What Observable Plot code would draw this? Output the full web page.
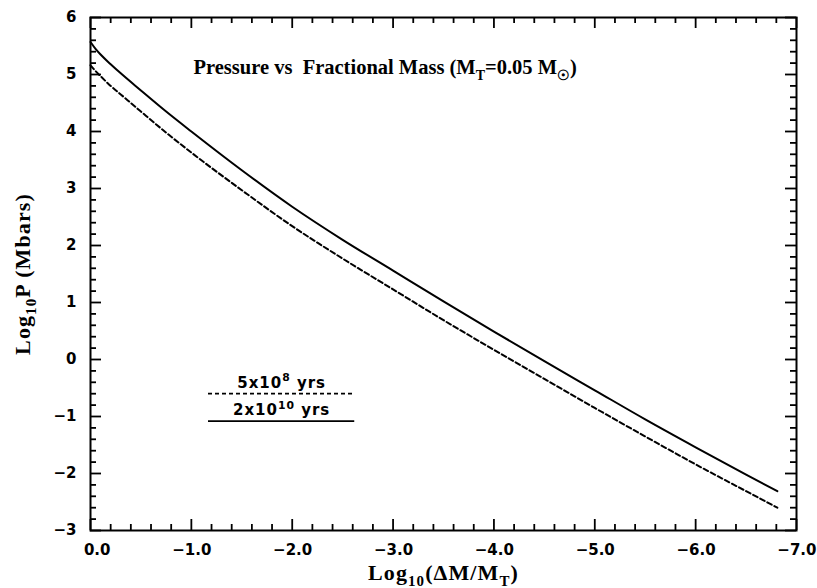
<!DOCTYPE html>
<html>
<head>
<meta charset="utf-8">
<script src="https://cdn.jsdelivr.net/npm/d3@7"></script>
<script src="https://cdn.jsdelivr.net/npm/@observablehq/plot@0.6"></script>
<style>
  html, body { margin: 0; padding: 0; background: #fff; }
  #chart svg { display: block; }
</style>
</head>
<body>
<div id="chart"></div>
<script>
// ---- data ----
const logMassFrac = [0, -0.05, -0.1, -0.2, -0.3, -0.5, -0.75, -1.0, -1.5, -2.0, -2.5, -3.0, -3.5, -4.0, -4.5, -5.0, -5.5, -6.0, -6.5, -6.81];
const logP_2e10 = [5.57, 5.45, 5.35, 5.18, 5.02, 4.72, 4.35, 4.00, 3.32, 2.68, 2.10, 1.56, 1.02, 0.49, -0.03, -0.54, -1.05, -1.54, -2.02, -2.31];
const logP_5e8  = [5.16, 5.06, 4.97, 4.80, 4.65, 4.35, 3.98, 3.63, 2.97, 2.34, 1.77, 1.23, 0.69, 0.17, -0.34, -0.85, -1.35, -1.84, -2.31, -2.60];
const xMajor = [0, -1, -2, -3, -4, -5, -6, -7];
const yMajor = [6, 5, 4, 3, 2, 1, 0, -1, -2, -3];
const legendLabels = ["5x10^{8} yrs", "2x10^{10} yrs"];
const titleText = "Pressure vs \u00a0Fractional Mass (M_{T}=0.05 M_{\u2609})";
const xLabel = "Log_{10}(\u0394M/M_{T})";
const yLabel = "Log_{10}P (Mbars)";

// legend placement in data units
const legendX1 = -1.17, legendX2 = -2.62;
const legendY = [-0.6, -1.08];

const xMinor = d3.range(0, 36).map(i => -i * 0.2).filter(v => Math.abs(v - Math.round(v)) > 1e-6);
const yMinor = d3.range(0, 46).map(i => -3 + i * 0.2).filter(v => Math.abs(v - Math.round(v)) > 1e-6);

const dashedData = logMassFrac.map((x, i) => ({x, y: logP_5e8[i]}));
const solidData = logMassFrac.map((x, i) => ({x, y: logP_2e10[i]}));

const W = 817, H = 588, mL = 90, mR = 21, mT = 17, mB = 58;
const fw = W - mL - mR, fh = H - mT - mB;
const minorLen = 6, majorLen = 11;

const serif = "Liberation Serif";
const sans = "DejaVu Sans";

const tk = {stroke: "black", strokeWidth: 1.8, strokeOpacity: 1};
function ticksX(vals, len) {
  return [
    Plot.tickX(vals, {x: d => d, insetTop: fh - len, ...tk}),
    Plot.tickX(vals, {x: d => d, insetBottom: fh - len, ...tk})
  ];
}
function ticksY(vals, len) {
  return [
    Plot.tickY(vals, {y: d => d, insetRight: fw - len, ...tk}),
    Plot.tickY(vals, {y: d => d, insetLeft: fw - len, ...tk})
  ];
}

const chart = Plot.plot({
  width: W,
  height: H,
  marginLeft: mL,
  marginRight: mR,
  marginTop: mT,
  marginBottom: mB,
  x: {domain: [0, -7], label: null, axis: null},
  y: {domain: [-3, 6], label: null, axis: null},
  marks: [
    // tick labels
    Plot.axisX(xMajor, {anchor: "bottom", tickSize: 0, tickPadding: 14, tickFormat: d3.format(".1f"), textAnchor: "end", dx: 20, fontSize: 15, fontWeight: "bold", fontFamily: sans, fill: "#000", label: null}),
    Plot.axisY(yMajor, {anchor: "left", tickSize: 0, tickPadding: 14, tickFormat: d3.format("d"), fontSize: 15, fontWeight: "bold", fontFamily: sans, fill: "#000", label: null}),
    Plot.frame({stroke: "#000", strokeWidth: 2}),
    // curves
    Plot.line(solidData, {x: "x", y: "y", stroke: "#000", strokeWidth: 2, curve: "monotone-x"}),
    Plot.line(dashedData, {x: "x", y: "y", stroke: "#000", strokeWidth: 2, strokeDasharray: "5,3", curve: "monotone-x"}),
    // legend
    Plot.ruleY([legendY[0]], {x1: legendX1, x2: legendX2, stroke: "#000", strokeWidth: 1.8, strokeDasharray: "4,3"}),
    Plot.ruleY([legendY[1]], {x1: legendX1, x2: legendX2, stroke: "#000", strokeWidth: 1.8}),
    Plot.text(legendLabels, {x: (legendX1 + legendX2) / 2, y: (d, i) => legendY[i], text: d => d, dy: -11, textAnchor: "middle", fontSize: 15, fontWeight: "bold", fontFamily: sans, fill: "#000"}),
    // title and axis labels
    Plot.text([titleText], {frameAnchor: "top-left", text: d => d, dx: 103, dy: 50, textAnchor: "start", lineAnchor: "middle", fontSize: 20.5, fontWeight: "bold", fontFamily: serif, fill: "#000"}),
    Plot.text([xLabel], {frameAnchor: "bottom", text: d => d, dy: 42, textAnchor: "middle", lineAnchor: "middle", fontSize: 22, fontWeight: "bold", fontFamily: serif, fill: "#000"}),
    Plot.text([yLabel], {frameAnchor: "left", text: d => d, dx: -68, rotate: -90, textAnchor: "middle", lineAnchor: "middle", fontSize: 22, fontWeight: "bold", fontFamily: serif, fill: "#000"}),
    // inward ticks on all four sides (drawn last)
    ...ticksX(xMinor, minorLen),
    ...ticksY(yMinor, minorLen),
    ...ticksX(xMajor, majorLen),
    ...ticksY(yMajor, majorLen)
  ]
});
document.getElementById("chart").appendChild(chart);

// rich text: _{...} subscript, ^{...} superscript
function richify(el) {
  const s = el.textContent;
  if (!/[_^]\{/.test(s)) return;
  const fs = parseFloat(getComputedStyle(el).fontSize) || 15;
  while (el.firstChild) el.removeChild(el.firstChild);
  const re = /([_^])\{([^}]*)\}|([^_^]+)/g;
  let m, shift = 0;
  const ns = "http://www.w3.org/2000/svg";
  while ((m = re.exec(s))) {
    const t = document.createElementNS(ns, "tspan");
    let target = 0, size = null;
    if (m[1] === "_") { target = fs * 0.3; size = fs * 0.68; t.textContent = m[2]; }
    else if (m[1] === "^") { target = -fs * 0.42; size = fs * 0.72; t.textContent = m[2]; }
    else { t.textContent = m[3]; }
    const dy = target - shift;
    if (dy) t.setAttribute("dy", dy);
    shift = target;
    if (size) t.setAttribute("font-size", size);
    el.appendChild(t);
  }
}
chart.querySelectorAll("text").forEach(richify);
chart.querySelectorAll("text").forEach(t => t.style.whiteSpace = "pre");
// wider letter spacing for the serif axis titles and legend, like the original typeface
chart.querySelectorAll("text").forEach(t => {
  const s = t.textContent;
  if (s.startsWith("Log")) t.setAttribute("letter-spacing", "1.1");
  if (s.endsWith("yrs")) t.setAttribute("letter-spacing", "1");
});
</script>
</body>
</html>
